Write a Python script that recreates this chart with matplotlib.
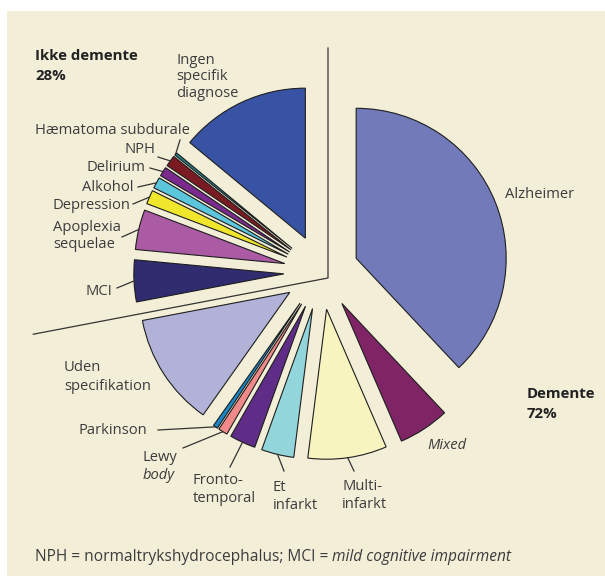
import matplotlib
matplotlib.use("Agg")
import matplotlib.pyplot as plt
import numpy as np
from matplotlib.patches import Rectangle

plt.rcParams['font.family'] = ['Open Sans', 'DejaVu Sans']

# Diagnoses in drawing order (counter-clockwise from 12 o'clock), percent of all patients
ikke_names = ["Ingen specifik diagnose", "Hæmatoma subdurale", "NPH", "Delirium",
              "Alkohol", "Depression", "Apoplexia sequelae", "MCI"]
ikke_values = [14.0, 0.3, 1.2, 1.0, 1.2, 1.5, 4.3, 4.5]

demente_names = ["Uden specifikation", "Parkinson", "Lewy body", "Frontotemporal",
                 "Et infarkt", "Multi-infarkt", "Mixed", "Alzheimer"]
demente_values = [12.2, 0.5, 1.0, 2.8, 3.5, 8.5, 5.5, 38.0]

group_names = ["Ikke demente", "Demente"]
group_shares = [28, 72]

ikke_colors = ["#3953a4", "#23808c", "#7a1a22", "#7b2a8e", "#5cc6dc", "#f0e62c",
               "#ab5ba4", "#312b6f"]
demente_colors = ["#b2b2d9", "#1a86c6", "#f08a8a", "#5f2c87", "#92d5db", "#f7f4c0",
                  "#7f2566", "#727ab9"]

W, H = 605, 576
BG = "#f2eed8"
TXT = "#3c3c3c"
FS = 10.6

fig = plt.figure(figsize=(W / 100, H / 100), dpi=100)
fig.patch.set_facecolor("white")
ax = fig.add_axes([0, 0, 1, 1])

# cream panel
ax.add_patch(Rectangle((7, 0), W - 7, H - 11, facecolor=BG, edgecolor="none", zorder=0))

values = ikke_values + demente_values
colors = ikke_colors + demente_colors
radius = 150
center = (321.3, H - 272.1)
gap = 0.25 * radius

wedges, _ = ax.pie(values, colors=colors, startangle=90, counterclock=True,
                   radius=radius, center=center, explode=[gap] * len(values),
                   wedgeprops=dict(edgecolor="#1e1e1e", linewidth=0.8),
                   frame=True)
ax.set_xlim(0, W)
ax.set_ylim(0, H)
ax.set_aspect("equal")
ax.axis("off")

# boundary between the two groups
corner = np.array([328.0, H - 278.0])
a_split = np.deg2rad(90 + 360 * group_shares[0] / 100)
top = corner + 230 * np.array([0.0, 1.0])
far = corner + 300 * np.array([np.cos(a_split), np.sin(a_split)])
ax.plot([top[0], corner[0], far[0]], [top[1], corner[1], far[1]],
        color="#333333", lw=0.9, zorder=1)


def put(x, yb, s, ha="left", **kw):
    kw.setdefault("fontsize", FS)
    kw.setdefault("color", TXT)
    return ax.text(x, H - yb, s, ha=ha, va="baseline", **kw)


def arc_mid(name):
    names = ikke_names + demente_names
    w = wedges[names.index(name)]
    th = np.deg2rad(0.5 * (w.theta1 + w.theta2))
    return w.center[0] + w.r * np.cos(th), w.center[1] + w.r * np.sin(th)


def leader(name, x, y_img):
    px, py = arc_mid(name)
    ax.plot([x, px], [H - y_img, py], color="#333333", lw=0.9, zorder=3)


# group headings
HEAD = dict(weight="bold", color="#222222", fontsize=10.8)
put(35, 60, group_names[0], **HEAD)
put(35, 80, f"{group_shares[0]}%", **HEAD)
put(527, 398, group_names[1], **HEAD)
put(527, 418, f"{group_shares[1]}%", **HEAD)

# non-dementia labels
put(176, 64, "Ingen")
put(176, 80.5, "specifik")
put(176, 97, "diagnose")
put(35, 134, "Hæmatoma subdurale")
leader("Hæmatoma subdurale", 180, 140)
put(156, 153, "NPH", ha="right")
leader("NPH", 158, 157)
put(145, 171, "Delirium", ha="right")
leader("Delirium", 150, 168)
put(134, 191, "Alkohol", ha="right")
leader("Alkohol", 138, 187)
put(130, 209, "Depression", ha="right")
leader("Depression", 133, 204)
put(53, 231, "Apoplexia")
put(53, 248.5, "sequelae")
leader("Apoplexia sequelae", 122, 237)
put(112, 295, "MCI", ha="right")
leader("MCI", 117, 288)

# dementia labels
put(64, 371, "Uden")
put(64, 390, "specifikation")
put(147, 434, "Parkinson", ha="right")
leader("Parkinson", 158, 430)
put(143, 461, "Lewy")
put(143, 479, "body", style="italic")
leader("Lewy body", 183, 448)
put(193, 484, "Fronto-")
put(193, 502, "temporal")
leader("Frontotemporal", 230, 467)
put(273, 491, "Et")
put(273, 509, "infarkt")
leader("Et infarkt", 284, 471)
put(342, 490, "Multi-")
put(342, 508, "infarkt")
leader("Multi-infarkt", 354, 471)
put(427, 449, "Mixed", style="italic")
put(505, 198, "Alzheimer")

# footnote
FN = 11.2
t1 = put(35, 561, "NPH = normaltrykshydrocephalus; MCI = ", fontsize=FN)
ax.annotate("mild cognitive impairment", xy=(1, 0), xycoords=t1,
            ha="left", va="bottom", fontsize=FN, color=TXT, style="italic")

fig.savefig("out.png", dpi=100, facecolor=fig.get_facecolor())
